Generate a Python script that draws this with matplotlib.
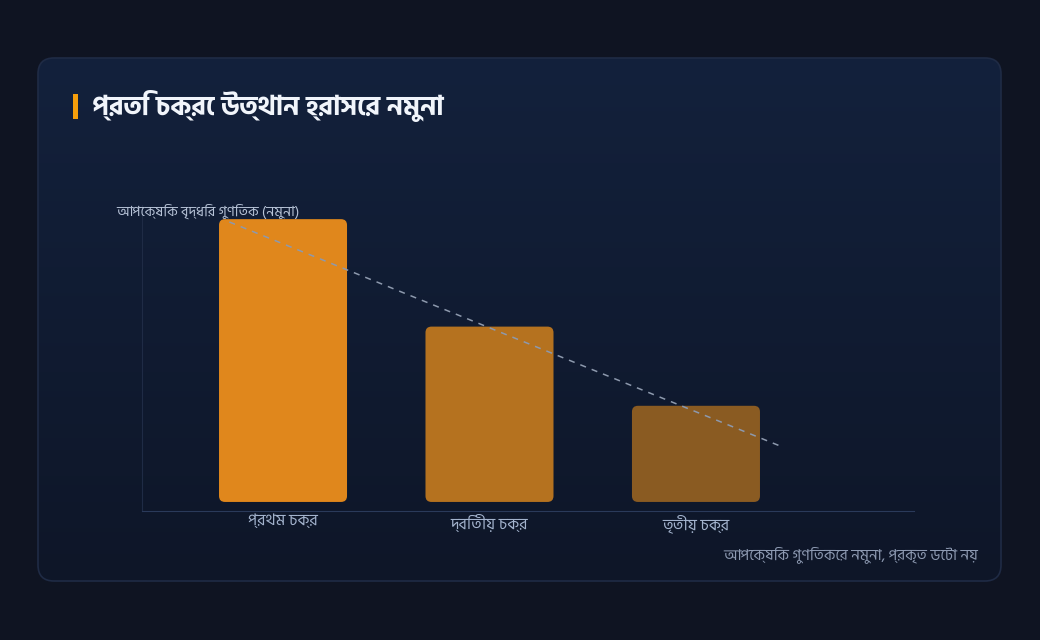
import numpy as np
import matplotlib
matplotlib.use('Agg')
import matplotlib.pyplot as plt
from matplotlib.patches import FancyBboxPatch, Rectangle
from matplotlib.colors import LinearSegmentedColormap

# data
cycles = ['প্রথম চক্র', 'দ্বিতীয় চক্র', 'তৃতীয় চক্র']
multipliers = [1.00, 0.62, 0.34]
bar_colors = ['#e0871c', '#b5721f', '#8a5b22']
trend_x = [-0.26, 2.40]
trend_y = [0.99, 0.20]

title = 'প্রতি চক্রে উত্থান হ্রাসের নমুনা'
ylabel = 'আপেক্ষিক বৃদ্ধির গুণিতক (নমুনা)'
footnote = 'আপেক্ষিক গুণিতকের নমুনা, প্রকৃত ডেটা নয়'

plt.rcParams['font.family'] = ['Hind Siliguri', 'Noto Sans Bengali', 'DejaVu Sans']

W, H = 1040, 640
fig = plt.figure(figsize=(W / 100, H / 100), dpi=100)
fig.patch.set_facecolor('#0f1422')

# background card
bg = fig.add_axes([0, 0, 1, 1])
bg.set_xlim(0, W)
bg.set_ylim(H, 0)
bg.axis('off')
card = FancyBboxPatch((38, 58), 963, 523, boxstyle='round,pad=0,rounding_size=16',
                      facecolor='none', edgecolor='#1f2b45', linewidth=1.2, zorder=3)
bg.add_patch(card)
grad = np.linspace(0, 1, 256).reshape(-1, 1)
cmap = LinearSegmentedColormap.from_list('card', ['#13213c', '#0e1628'])
im = bg.imshow(grad, cmap=cmap, extent=(38, 1001, 581, 58), aspect='auto', zorder=1)
clip = FancyBboxPatch((38, 58), 963, 523, boxstyle='round,pad=0,rounding_size=16',
                      facecolor='none', edgecolor='none', transform=bg.transData)
im.set_clip_path(clip)
bg.add_patch(Rectangle((73, 94), 5, 25, facecolor='#f59e0b', edgecolor='none', zorder=4))
bg.text(92, 106, title, color='#f1f5fb', fontsize=19.5, fontweight='bold',
        va='center', ha='left', zorder=4)
bg.text(978, 555, footnote, color='#8e9bb3', fontsize=11, va='center', ha='right', zorder=4)

# chart
x0, x1 = 142, 914
y0, y1 = 511, 205
ax = fig.add_axes([x0 / W, 1 - y0 / H, (x1 - x0) / W, (y0 - y1) / H])
ax.set_facecolor('none')
xs = np.arange(len(cycles))
ax.set_xlim(-0.683, 3.056)
ax.set_ylim(-0.032, 1.05)

bars = ax.bar(xs, multipliers, width=0.62, color=bar_colors)
# swap plain bars for rounded ones
fig.canvas.draw()
px_x = ax.transData.transform((1, 0))[0] - ax.transData.transform((0, 0))[0]
px_y = ax.transData.transform((0, 1))[1] - ax.transData.transform((0, 0))[1]
r = 6 / px_x
for b in bars:
    b.set_visible(False)
    ax.add_patch(FancyBboxPatch((b.get_x(), 0), b.get_width(), b.get_height(),
                                boxstyle='round,pad=0,rounding_size=%f' % r,
                                mutation_aspect=px_x / px_y,
                                facecolor=b.get_facecolor(), edgecolor='none', zorder=2))

ax.plot(trend_x, trend_y, color='#8d99ad', linestyle=(0, (4, 4)), linewidth=1.1, zorder=3)

for s in ['top', 'right']:
    ax.spines[s].set_visible(False)
ax.spines['left'].set_color('#1f2b45')
ax.spines['bottom'].set_color('#2a3a5a')
ax.set_yticks([])
ax.set_xticks(xs)
ax.set_xticklabels(cycles, color='#a3b3cd', fontsize=11.5)
ax.tick_params(axis='x', length=0, pad=2)
fig.text(116 / W, 1 - 211 / H, ylabel, color='#b8c4d8', fontsize=10.3, va='center', ha='left')

fig.savefig('out.png', dpi=100, facecolor=fig.get_facecolor())
